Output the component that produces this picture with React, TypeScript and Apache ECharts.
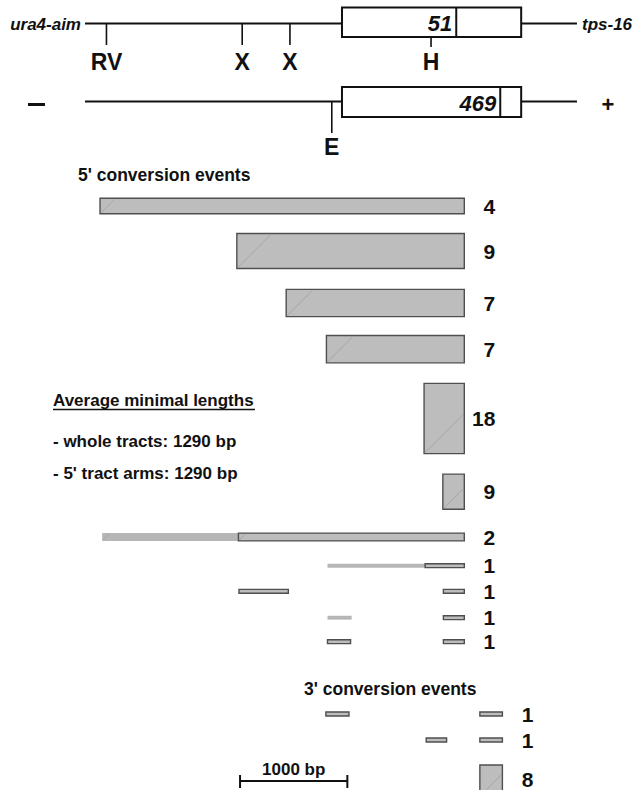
import { useEffect, useRef } from "react";
import * as echarts from "echarts";

// ura4-aim / tps-16 map: positions in bp from the left end of the map line
const topSiteLabels = ["RV", "X", "X", "H"];
const topSiteBp = [200, 1465, 1910, 3225];
const bottomSiteLabels = ["E"];
const bottomSiteBp = [2300];
const orfBp = [2395, 4065];
const mapEndBp = 4585;
const markerLabels = ["51", "469"];
const markerBp = [3460, 3870];

// 5' conversion tracts: [row, fromBp, toBp, kind]
const fivePrimeCounts = [4, 9, 7, 7, 18, 9, 2, 1, 1, 1, 1];
const fivePrimeSegments: [number, number, number, string][] = [
  [0, 140, 3535, "box"],
  [1, 1415, 3535, "box"],
  [2, 1875, 3535, "box"],
  [3, 2250, 3535, "box"],
  [4, 3160, 3535, "box"],
  [5, 3335, 3535, "box"],
  [6, 160, 1430, "faint"],
  [6, 1430, 3535, "box"],
  [7, 2260, 3170, "faint"],
  [7, 3170, 3535, "box"],
  [8, 1435, 1895, "box"],
  [8, 3340, 3535, "box"],
  [9, 2260, 2485, "faint"],
  [9, 3340, 3535, "box"],
  [10, 2260, 2475, "box"],
  [10, 3340, 3535, "box"],
];

// 3' conversion tracts
const threePrimeCounts = [1, 1, 8];
const threePrimeSegments: [number, number, number, string][] = [
  [0, 2245, 2460, "box"],
  [0, 3680, 3890, "box"],
  [1, 3180, 3370, "box"],
  [1, 3680, 3890, "box"],
  [2, 3680, 3890, "box"],
];

const scaleBarBp = [1445, 2445];
const summaryTitle = "Average minimal lengths";
const summaryLines = ["- whole tracts: 1290 bp", "- 5' tract arms: 1290 bp"];

// ---- layout (pixels) ----
const W = 638;
const H = 790;
const EVENT_PX = 3.9; // height of one event in a tract bar
const GRID_LEFT = 85;
const BP_MAX = 5000;
const PX_PER_BP = 0.1073;
const ROW_Y_5 = [206, 251, 303, 349.2, 418.5, 491.7, 537, 565.7, 591.3, 617.7, 641.7];
const ROW_Y_3 = [714, 740, 780.6];
const COUNT_OFFSET = 31;

const FONT = "'Liberation Sans', Arial, Helvetica, sans-serif";
const INK = "#111";
const BAR_FILL = "#bdbdbd";
const BAR_EDGE = "#4f4f4f";
const FAINT_FILL = "#b6b6b6";
const DIAG = "#9c9c9c";

function segmentRenderer(segments: [number, number, number, string][], counts: number[], rowY: number[]) {
  return (params: any, api: any) => {
    const [row, from, to, kind] = segments[params.dataIndex];
    const x0 = api.coord([from, 0])[0];
    const x1 = api.coord([to, 0])[0];
    const h = api.size([0, counts[row]])[1];
    const top = rowY[row] - h / 2;
    const w = x1 - x0;
    const children: any[] = [];
    if (kind === "box") {
      children.push({
        type: "rect",
        shape: { x: x0, y: top, width: w, height: h },
        style: { fill: BAR_FILL, stroke: BAR_EDGE, lineWidth: 1.4 },
      });
    } else {
      children.push({
        type: "rect",
        shape: { x: x0, y: top, width: w, height: h },
        style: { fill: FAINT_FILL },
      });
    }
    if (h > 6) {
      const d = Math.min(w, h);
      children.push({
        type: "line",
        shape: { x1: x0 + 1, y1: top + h - 1, x2: x0 + d - 1, y2: top + h - d + 1 },
        style: { stroke: DIAG, lineWidth: 0.7 },
      });
    }
    return { type: "group", children };
  };
}

function countRenderer(counts: number[], rowY: number[]) {
  return (params: any, api: any) => {
    const i = params.dataIndex;
    const x = api.coord([api.value(0), 0])[0] + COUNT_OFFSET;
    return {
      type: "text",
      x,
      y: Math.min(rowY[i], 779),
      style: {
        text: String(counts[i]),
        fill: INK,
        font: `bold 21px ${FONT}`,
        align: "right",
        verticalAlign: "middle",
      },
    };
  };
}

function rowRightEdges(segments: [number, number, number, string][], n: number) {
  const right = new Array(n).fill(0);
  segments.forEach(([row, , to]) => {
    right[row] = Math.max(right[row], to);
  });
  return right.map((bp, i) => [bp, i]);
}

function mapRenderer(params: any, api: any) {
  const X = (bp: number) => api.coord([bp, 0])[0];
  const children: any[] = [];
  const lineStyle = { stroke: INK, lineWidth: 2 };
  const rows = [
    { y: 23.5, top: 7.5, bottom: 37, marker: 0, siteLabels: topSiteLabels, siteBp: topSiteBp, tickEnd: 45, labelY: 62 },
    { y: 101.5, top: 87, bottom: 117, marker: 1, siteLabels: bottomSiteLabels, siteBp: bottomSiteBp, tickEnd: 133, labelY: 147 },
  ];
  rows.forEach((r) => {
    children.push({ type: "line", shape: { x1: X(0), y1: r.y, x2: X(orfBp[0]), y2: r.y }, style: lineStyle });
    children.push({ type: "line", shape: { x1: X(orfBp[1]), y1: r.y, x2: X(mapEndBp), y2: r.y }, style: lineStyle });
    children.push({
      type: "rect",
      shape: { x: X(orfBp[0]), y: r.top, width: X(orfBp[1]) - X(orfBp[0]), height: r.bottom - r.top },
      style: { fill: "#fff", stroke: INK, lineWidth: 2 },
    });
    const mx = X(markerBp[r.marker]);
    children.push({ type: "line", shape: { x1: mx, y1: r.top, x2: mx, y2: r.bottom }, style: lineStyle });
    children.push({
      type: "text",
      x: mx - 4,
      y: (r.top + r.bottom) / 2 + 1,
      style: {
        text: markerLabels[r.marker],
        fill: INK,
        font: `italic bold 22px ${FONT}`,
        align: "right",
        verticalAlign: "middle",
      },
    });
    r.siteBp.forEach((bp, i) => {
      const x = X(bp);
      const inOrf = bp > orfBp[0] && bp < orfBp[1];
      const y1 = inOrf ? r.bottom : r.y;
      const y2 = inOrf ? r.bottom + 10 : r.tickEnd;
      children.push({ type: "line", shape: { x1: x, y1, x2: x, y2 }, style: { stroke: INK, lineWidth: 1.6 } });
      children.push({
        type: "text",
        x,
        y: r.labelY,
        style: {
          text: r.siteLabels[i],
          fill: INK,
          font: `bold 23px ${FONT}`,
          align: "center",
          verticalAlign: "middle",
        },
      });
    });
  });
  children.push({
    type: "text",
    x: X(0) - 4,
    y: 24,
    style: { text: "ura4-aim", fill: INK, font: `italic bold 17px ${FONT}`, align: "right", verticalAlign: "middle" },
  });
  children.push({
    type: "text",
    x: X(mapEndBp) + 5,
    y: 24,
    style: { text: "tps-16", fill: INK, font: `italic bold 17px ${FONT}`, align: "left", verticalAlign: "middle" },
  });
  return { type: "group", children };
}

function scaleRenderer(params: any, api: any) {
  const x0 = api.coord([api.value(0), 0])[0];
  const x1 = api.coord([api.value(1), 0])[0];
  const y = 781;
  const st = { stroke: INK, lineWidth: 2 };
  return {
    type: "group",
    children: [
      { type: "line", shape: { x1: x0, y1: y, x2: x1, y2: y }, style: st },
      { type: "line", shape: { x1: x0, y1: y - 6, x2: x0, y2: y + 7 }, style: st },
      { type: "line", shape: { x1: x1, y1: y - 6, x2: x1, y2: y + 7 }, style: st },
      {
        type: "text",
        x: (x0 + x1) / 2,
        y: y - 12,
        style: {
          text: `${api.value(1) - api.value(0)} bp`,
          fill: INK,
          font: `bold 17px ${FONT}`,
          align: "center",
          verticalAlign: "middle",
        },
      },
    ],
  };
}

export default function App() {
  const ref = useRef<HTMLDivElement>(null);

  useEffect(() => {
    if (!ref.current) return;
    const chart = echarts.init(ref.current, undefined, { renderer: "svg" });
    const textStyle = (size: number) => ({ fill: INK, font: `bold ${size}px ${FONT}` });

    chart.setOption({
      animation: false,
      backgroundColor: "#fff",
      grid: { left: GRID_LEFT, top: 0, width: BP_MAX * PX_PER_BP, height: H },
      xAxis: { type: "value", min: 0, max: BP_MAX, show: false },
      yAxis: { type: "value", min: 0, max: H / EVENT_PX, inverse: true, show: false },
      tooltip: { show: false },
      graphic: [
        { type: "line", shape: { x1: 28, y1: 104.5, x2: 45, y2: 104.5 }, style: { stroke: INK, lineWidth: 3 } },
        { type: "text", x: 608, y: 104, style: { text: "+", ...textStyle(22), align: "center", verticalAlign: "middle" } },
        { type: "text", x: 78, y: 175, style: { text: "5' conversion events", ...textStyle(17.5), verticalAlign: "middle" } },
        { type: "text", x: 304, y: 689, style: { text: "3' conversion events", ...textStyle(17.5), verticalAlign: "middle" } },
        { type: "text", x: 53, y: 400, style: { text: summaryTitle, ...textStyle(17), verticalAlign: "middle" } },
        { type: "line", shape: { x1: 53, y1: 409.5, x2: 255, y2: 409.5 }, style: { stroke: INK, lineWidth: 1.5 } },
        { type: "text", x: 53, y: 441, style: { text: summaryLines[0], ...textStyle(17), verticalAlign: "middle" } },
        { type: "text", x: 53, y: 473, style: { text: summaryLines[1], ...textStyle(17), verticalAlign: "middle" } },
      ],
      series: [
        {
          type: "custom",
          name: "map",
          data: [[0, 0]],
          renderItem: mapRenderer,
          silent: true,
        },
        {
          type: "custom",
          name: "5' tracts",
          data: fivePrimeSegments.map(([row, from, to]) => [from, to, row]),
          renderItem: segmentRenderer(fivePrimeSegments, fivePrimeCounts, ROW_Y_5),
          silent: true,
        },
        {
          type: "custom",
          name: "5' counts",
          data: rowRightEdges(fivePrimeSegments, fivePrimeCounts.length),
          renderItem: countRenderer(fivePrimeCounts, ROW_Y_5),
          silent: true,
        },
        {
          type: "custom",
          name: "3' tracts",
          data: threePrimeSegments.map(([row, from, to]) => [from, to, row]),
          renderItem: segmentRenderer(threePrimeSegments, threePrimeCounts, ROW_Y_3),
          silent: true,
        },
        {
          type: "custom",
          name: "3' counts",
          data: rowRightEdges(threePrimeSegments, threePrimeCounts.length),
          renderItem: countRenderer(threePrimeCounts, ROW_Y_3),
          silent: true,
        },
        {
          type: "custom",
          name: "scale",
          data: [scaleBarBp],
          renderItem: scaleRenderer,
          silent: true,
        },
      ],
    });
    return () => chart.dispose();
  }, []);

  return (
    <div
      ref={ref}
      style={{ position: "absolute", left: 0, top: 0, width: W, height: H, background: "#fff" }}
    />
  );
}
